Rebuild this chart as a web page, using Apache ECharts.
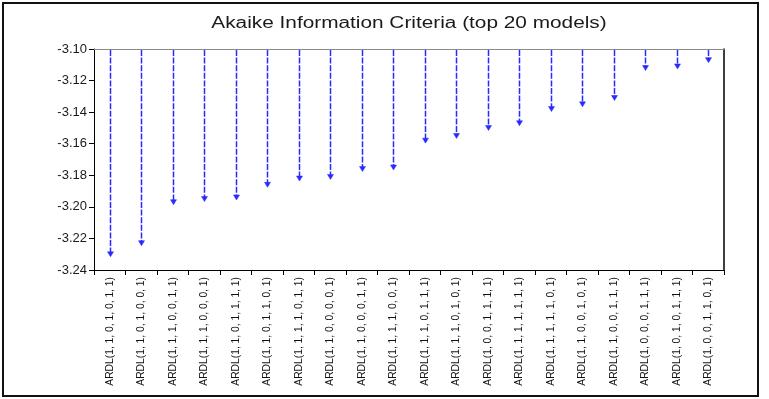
<!DOCTYPE html>
<html>
<head>
<meta charset="utf-8">
<script src="https://cdn.jsdelivr.net/npm/echarts@6/dist/echarts.min.js"></script>
<style>
  html, body { margin: 0; padding: 0; background: #fff; }
  #chart { width: 769px; height: 399px; }
</style>
</head>
<body>
<div id="chart"></div>
<script>
// ARDL model specifications, ordered by Akaike criterion
const models = [
  'ARDL(1, 1, 0, 1, 0, 1, 1)',
  'ARDL(1, 1, 0, 1, 0, 0, 1)',
  'ARDL(1, 1, 1, 0, 0, 1, 1)',
  'ARDL(1, 1, 1, 0, 0, 0, 1)',
  'ARDL(1, 1, 0, 1, 1, 1, 1)',
  'ARDL(1, 1, 0, 1, 1, 0, 1)',
  'ARDL(1, 1, 1, 1, 0, 1, 1)',
  'ARDL(1, 1, 0, 0, 0, 0, 1)',
  'ARDL(1, 1, 0, 0, 0, 1, 1)',
  'ARDL(1, 1, 1, 1, 0, 0, 1)',
  'ARDL(1, 1, 1, 0, 1, 1, 1)',
  'ARDL(1, 1, 1, 0, 1, 0, 1)',
  'ARDL(1, 0, 0, 1, 1, 1, 1)',
  'ARDL(1, 1, 1, 1, 1, 1, 1)',
  'ARDL(1, 1, 1, 1, 1, 0, 1)',
  'ARDL(1, 1, 0, 0, 1, 0, 1)',
  'ARDL(1, 1, 0, 0, 1, 1, 1)',
  'ARDL(1, 0, 0, 0, 1, 1, 1)',
  'ARDL(1, 0, 1, 0, 1, 1, 1)',
  'ARDL(1, 0, 0, 1, 1, 0, 1)'
];

// Akaike information criterion of each model
const aicValues = [
  -3.231, -3.224, -3.198, -3.196, -3.195, -3.187, -3.183, -3.182, -3.177, -3.176,
  -3.159, -3.156, -3.151, -3.148, -3.139, -3.136, -3.132, -3.113, -3.112, -3.108
];

// Value axis range and tick step
const axisMin = -3.24;
const axisMax = -3.10;
const axisStep = 0.02;

const chartTitle = 'Akaike Information Criteria (top 20 models)';

const FONT = '"Liberation Sans", Arial, sans-serif';
const STEM = '#2a2aff';

const chart = echarts.init(document.getElementById('chart'), null, { renderer: 'canvas' });

// Dashed stem from the top of the plot down to the value, ending in a small arrow head
function renderStem(params, api) {
  const idx = api.value(0);
  const end = api.coord([idx, api.value(1)]);
  const start = api.coord([idx, axisMax]);
  const x = Math.round(end[0]) + 0.5;
  return {
    type: 'group',
    children: [
      {
        type: 'line',
        shape: { x1: x, y1: start[1] + 1, x2: x, y2: end[1] - 3 },
        style: { stroke: STEM, lineWidth: 1.5, lineDash: [6, 1.6] }
      },
      {
        type: 'polygon',
        shape: { points: [[x - 3, end[1] - 4], [x + 3, end[1] - 4], [x, end[1] + 1]] },
        style: { fill: STEM, stroke: STEM, lineWidth: 0.5 }
      }
    ]
  };
}

chart.setOption({
  animation: false,
  backgroundColor: '#fff',
  graphic: [
    {
      type: 'rect',
      shape: { x: 3, y: 3, width: 755, height: 393 },
      style: { fill: null, stroke: '#111', lineWidth: 2 },
      silent: true
    },
    {
      // wide title, centred over the plot
      type: 'text',
      x: 409,
      y: 24,
      scaleX: 1.3,
      style: {
        text: chartTitle,
        font: '16px "Liberation Sans", Arial, sans-serif',
        fill: '#1a1a1a',
        align: 'center',
        verticalAlign: 'middle'
      },
      silent: true
    }
  ],
  grid: { left: 94, right: 45, top: 49, bottom: 129, outerBoundsMode: 'none', containLabel: false },
  xAxis: [
    {
      type: 'category',
      data: models,
      boundaryGap: true,
      axisLine: { lineStyle: { color: '#000', width: 1 } },
      axisTick: { show: true, inside: false, length: 5, lineStyle: { color: '#000' } },
      axisLabel: {
        rotate: 90,
        interval: 0,
        margin: 7,
        fontFamily: FONT,
        fontSize: 10.3,
        color: '#111'
      },
      splitLine: { show: false }
    },
    {
      type: 'category',
      data: models,
      position: 'top',
      axisLine: { lineStyle: { color: '#8a8a8a', width: 1 } },
      axisTick: { show: false },
      axisLabel: { show: false }
    }
  ],
  yAxis: [
    {
      type: 'value',
      min: axisMin,
      max: axisMax,
      interval: axisStep,
      axisLine: { show: true, lineStyle: { color: '#000', width: 1 } },
      axisTick: { show: true, inside: false, length: 5, lineStyle: { color: '#000' } },
      axisLabel: {
        margin: 7,
        fontFamily: FONT,
        fontSize: 13,
        color: '#1a1a1a',
        formatter: v => v.toFixed(2)
      },
      splitLine: { show: false }
    },
    {
      type: 'value',
      min: axisMin,
      max: axisMax,
      position: 'right',
      axisLine: { show: true, lineStyle: { color: '#000', width: 1.5 } },
      axisTick: { show: false },
      axisLabel: { show: false },
      splitLine: { show: false }
    }
  ],
  series: [{
    type: 'custom',
    renderItem: renderStem,
    data: aicValues.map((v, i) => [i, v]),
    encode: { x: 0, y: 1 },
    clip: false,
    z: 3
  }]
});
</script>
</body>
</html>
